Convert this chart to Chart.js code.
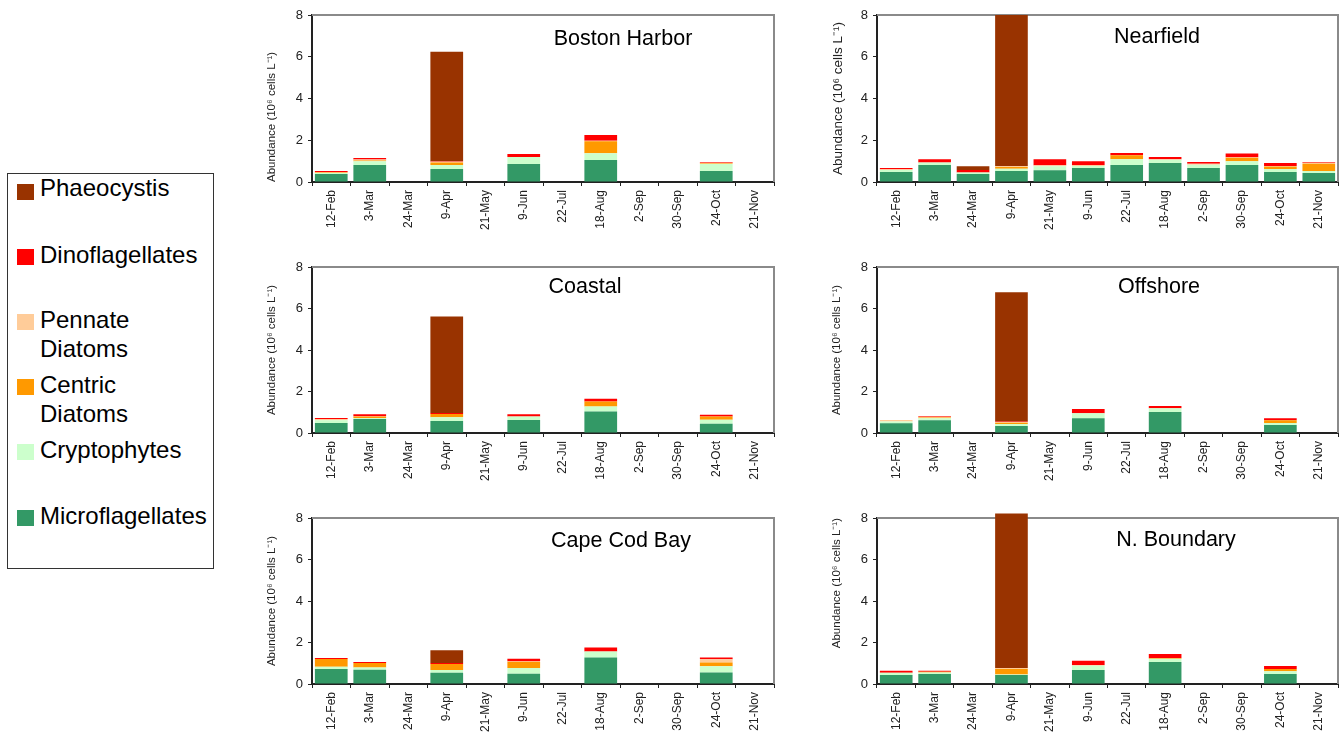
<!DOCTYPE html>
<html>
<head>
<meta charset="utf-8">
<script src="https://cdn.jsdelivr.net/npm/chart.js@4.4.1/dist/chart.umd.min.js"></script>
<style>
  body { margin: 0; width: 1340px; height: 736px; overflow: hidden; background: #fff; position: relative;
         font-family: Arial, "Liberation Sans", sans-serif; }
  canvas { position: absolute; }
  #legendBox { position: absolute; left: 7px; top: 173px; width: 205px; height: 394px; border: 1px solid #333; }
  .sw { position: absolute; left: 17px; width: 17px; height: 16px; }
  .lbl { position: absolute; left: 40px; font-size: 24px; line-height: 29px; color: #000; }
</style>
</head>
<body>
<div id="legendBox"></div>
<div class="sw" style="top:184px;background:#993300"></div><div class="lbl" style="top:173px">Phaeocystis</div>
<div class="sw" style="top:249px;background:#ff0000"></div><div class="lbl" style="top:240px">Dinoflagellates</div>
<div class="sw" style="top:314px;background:#ffcc99"></div><div class="lbl" style="top:305px">Pennate<br>Diatoms</div>
<div class="sw" style="top:379px;background:#ff9900"></div><div class="lbl" style="top:370px">Centric<br>Diatoms</div>
<div class="sw" style="top:444px;background:#ccffcc"></div><div class="lbl" style="top:435px">Cryptophytes</div>
<div class="sw" style="top:510px;background:#339966"></div><div class="lbl" style="top:501px">Microflagellates</div>

<canvas id="bh" width="521" height="245" style="left:255px;top:0px"></canvas>
<canvas id="nf" width="520" height="245" style="left:820px;top:0px"></canvas>
<canvas id="co" width="521" height="245" style="left:255px;top:252px"></canvas>
<canvas id="of" width="520" height="245" style="left:820px;top:252px"></canvas>
<canvas id="cc" width="521" height="233" style="left:255px;top:503px"></canvas>
<canvas id="nb" width="520" height="233" style="left:820px;top:503px"></canvas>

<script>
// survey dates
var dates = ['12-Feb', '3-Mar', '24-Mar', '9-Apr', '21-May', '9-Jun', '22-Jul', '18-Aug', '2-Sep', '30-Sep', '24-Oct', '21-Nov'];
var yTicks = [0, 2, 4, 6, 8];

// Boston Harbor
var bhMicro   = [0.38, 0.82, null, 0.62, null, 0.86, null, 1.05, null, null, 0.53, null];
var bhCrypto  = [0.05, 0.17, null, 0.20, null, 0.34, null, 0.33, null, null, 0.33, null];
var bhCentric = [0.02, 0.04, null, 0.12, null, 0, null, 0.57, null, null, 0.03, null];
var bhPennate = [0.03, 0.05, null, 0.03, null, 0, null, 0.03, null, null, 0.03, null];
var bhDino    = [0.05, 0.07, null, 0.02, null, 0.14, null, 0.27, null, null, 0.04, null];
var bhPhaeo   = [0, 0, null, 5.25, null, 0, null, 0, null, null, 0, null];

// Nearfield
var nfMicro   = [0.48, 0.82, 0.38, 0.53, 0.56, 0.67, 0.82, 0.91, 0.67, 0.82, 0.48, 0.43];
var nfCrypto  = [0.10, 0.11, 0.08, 0.11, 0.20, 0.10, 0.27, 0.15, 0.16, 0.18, 0.14, 0.10];
var nfCentric = [0, 0, 0, 0.08, 0, 0, 0.19, 0, 0, 0.16, 0.12, 0.35];
var nfPennate = [0.03, 0, 0, 0.05, 0.04, 0.04, 0, 0.03, 0.05, 0.03, 0.03, 0.04];
var nfDino    = [0.06, 0.16, 0.12, 0, 0.29, 0.18, 0.11, 0.11, 0.08, 0.17, 0.14, 0.04];
var nfPhaeo   = [0, 0, 0.18, 7.23, 0, 0, 0, 0, 0, 0, 0, 0];

// Coastal
var coMicro   = [0.48, 0.67, null, 0.58, null, 0.63, null, 1.04, null, null, 0.45, null];
var coCrypto  = [0.14, 0.05, null, 0.18, null, 0.17, null, 0.24, null, null, 0.19, null];
var coCentric = [0, 0.07, null, 0.16, null, 0, null, 0.24, null, null, 0.15, null];
var coPennate = [0.05, 0.02, null, 0, null, 0, null, 0, null, null, 0, null];
var coDino    = [0.05, 0.09, null, 0.04, null, 0.10, null, 0.13, null, null, 0.09, null];
var coPhaeo   = [0, 0, null, 4.66, null, 0, null, 0, null, null, 0, null];

// Offshore
var ofMicro   = [0.47, 0.61, null, 0.34, null, 0.71, null, 1.01, null, null, 0.39, null];
var ofCrypto  = [0.08, 0.10, null, 0.09, null, 0.24, null, 0.18, null, null, 0.09, null];
var ofCentric = [0, 0.04, null, 0.06, null, 0, null, 0, null, null, 0.13, null];
var ofPennate = [0.08, 0.03, null, 0.04, null, 0, null, 0, null, null, 0, null];
var ofDino    = [0, 0.04, null, 0.03, null, 0.21, null, 0.11, null, null, 0.10, null];
var ofPhaeo   = [0, 0, null, 6.22, null, 0, null, 0, null, null, 0, null];

// Cape Cod Bay
var ccMicro   = [0.72, 0.69, null, 0.54, null, 0.50, null, 1.28, null, null, 0.56, null];
var ccCrypto  = [0.11, 0.10, null, 0.13, null, 0.27, null, 0.29, null, null, 0.29, null];
var ccCentric = [0.37, 0.22, null, 0.29, null, 0.30, null, 0, null, null, 0.19, null];
var ccPennate = [0, 0, null, 0, null, 0.03, null, 0, null, null, 0.15, null];
var ccDino    = [0.05, 0.05, null, 0.05, null, 0.12, null, 0.19, null, null, 0.09, null];
var ccPhaeo   = [0, 0, null, 0.62, null, 0, null, 0, null, null, 0, null];

// N. Boundary
var nbMicro   = [0.43, 0.48, null, 0.43, null, 0.67, null, 1.06, null, null, 0.48, null];
var nbCrypto  = [0.11, 0.08, null, 0.03, null, 0.21, null, 0.16, null, null, 0.14, null];
var nbCentric = [0, 0.03, null, 0.26, null, 0, null, 0.03, null, null, 0.10, null];
var nbPennate = [0, 0, null, 0.05, null, 0.03, null, 0, null, null, 0, null];
var nbDino    = [0.10, 0.05, null, 0, null, 0.21, null, 0.19, null, null, 0.15, null];
var nbPhaeo   = [0, 0, null, 7.45, null, 0, null, 0, null, null, 0, null];

var FONT = 'Arial, "Liberation Sans", sans-serif';

// gray frame on top and right of the plot, bars paint over it
var framePlugin = {
    id: 'frame',
    beforeDatasetsDraw: function (chart) {
        var a = chart.chartArea, ctx = chart.ctx;
        ctx.save();
        ctx.strokeStyle = '#8a8a8a';
        ctx.lineWidth = 2;
        ctx.beginPath();
        ctx.moveTo(a.left, a.top);
        ctx.lineTo(a.right, a.top);
        ctx.lineTo(a.right, a.bottom);
        ctx.stroke();
        ctx.restore();
    }
};

// station name inside the plot
var panelTitle = {
    id: 'panelTitle',
    afterDatasetsDraw: function (chart, args, opts) {
        var a = chart.chartArea, ctx = chart.ctx;
        ctx.save();
        ctx.font = '21.5px ' + FONT;
        ctx.fillStyle = '#000';
        ctx.textAlign = 'center';
        ctx.textBaseline = 'alphabetic';
        ctx.fillText(opts.text, a.left + opts.dx, a.top + opts.dy);
        ctx.restore();
    }
};

function makePanel(id, name, dx, dy, plotH, yTitleSize, yTitleAlign, micro, crypto, centric, pennate, dino, phaeo) {
    var canvas = document.getElementById(id);
    var xAxisH = canvas.height - 15 - plotH;

    function ds(label, values, color) {
        return { label: label, data: values, backgroundColor: color, borderWidth: 0,
                 barPercentage: 0.85, categoryPercentage: 1, clip: false };
    }

    new Chart(canvas.getContext('2d'), {
        type: 'bar',
        data: {
            labels: dates,
            datasets: [
                ds('Microflagellates', micro, '#339966'),
                ds('Cryptophytes', crypto, '#ccffcc'),
                ds('Centric Diatoms', centric, '#ff9900'),
                ds('Pennate Diatoms', pennate, '#ffcc99'),
                ds('Dinoflagellates', dino, '#ff0000'),
                ds('Phaeocystis', phaeo, '#993300')
            ]
        },
        options: {
            responsive: false,
            animation: false,
            devicePixelRatio: 1,
            layout: { padding: { left: 10, top: 15, right: 2, bottom: 0 } },
            plugins: {
                legend: { display: false },
                tooltip: { enabled: false },
                panelTitle: { text: name, dx: dx, dy: dy }
            },
            scales: {
                x: {
                    stacked: true,
                    grid: { drawOnChartArea: false, drawTicks: true, tickLength: 4, color: '#222', offset: true },
                    border: { color: '#222', width: 2 },
                    ticks: { autoSkip: false, minRotation: 90, maxRotation: 90, padding: 4,
                             color: '#222', font: { family: FONT, size: 12 } },
                    afterFit: function (s) { s.height = xAxisH; }
                },
                y: {
                    stacked: true,
                    min: 0,
                    max: 8,
                    afterBuildTicks: function (s) { s.ticks = yTicks.map(function (v) { return { value: v }; }); },
                    grid: { drawOnChartArea: false, drawTicks: true, tickLength: 4, color: '#222' },
                    border: { color: '#222', width: 2 },
                    ticks: { padding: 5, color: '#222', font: { family: FONT, size: 13 } },
                    title: { display: true, text: 'Abundance (10\u2076 cells L\u207B\u00B9)', align: yTitleAlign,
                             padding: 0, color: '#222', font: { family: FONT, size: yTitleSize } },
                    afterFit: function (s) { s.width = 47; }
                }
            }
        },
        plugins: [framePlugin, panelTitle]
    });
}

makePanel('bh', 'Boston Harbor', 311, 30, 167, 11.5, 'start', bhMicro, bhCrypto, bhCentric, bhPennate, bhDino, bhPhaeo);
makePanel('nf', 'Nearfield', 280, 28, 167, 13.5, 'center', nfMicro, nfCrypto, nfCentric, nfPennate, nfDino, nfPhaeo);
makePanel('co', 'Coastal', 273, 26, 166, 11.5, 'center', coMicro, coCrypto, coCentric, coPennate, coDino, coPhaeo);
makePanel('of', 'Offshore', 282, 26, 166, 11.5, 'center', ofMicro, ofCrypto, ofCentric, ofPennate, ofDino, ofPhaeo);
makePanel('cc', 'Cape Cod Bay', 309, 29, 166, 11.5, 'center', ccMicro, ccCrypto, ccCentric, ccPennate, ccDino, ccPhaeo);
makePanel('nb', 'N. Boundary', 299, 28, 166, 11.5, 'end', nbMicro, nbCrypto, nbCentric, nbPennate, nbDino, nbPhaeo);
</script>
</body>
</html>
